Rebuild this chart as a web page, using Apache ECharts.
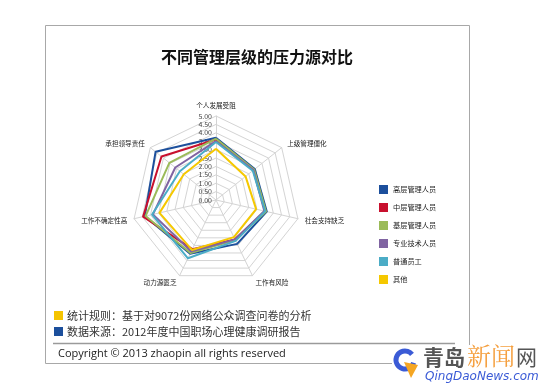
<!DOCTYPE html>
<html>
<head>
<meta charset="utf-8">
<script src="https://cdn.jsdelivr.net/npm/echarts@6/dist/echarts.min.js"></script>
<style>
html,body{margin:0;padding:0;background:#fff;}
#chart{width:550px;height:385px;}
</style>
</head>
<body>
<div id="chart"></div>
<script>
// Axes in clockwise order starting at the top
var indicators = ['个人发展受阻','上级管理僵化','社会支持缺乏','工作有风险','动力源匮乏','工作不确定性高','承担领导责任'];
var seriesNames = ['高层管理人员','中层管理人员','基层管理人员','专业技术人员','普通员工','其他'];
var seniorMgr   = [3.70, 2.95, 3.10, 2.90, 3.55, 4.35, 4.60];
var middleMgr   = [3.60, 2.85, 3.00, 2.60, 3.25, 4.45, 4.15];
var juniorMgr   = [3.65, 2.90, 3.05, 2.65, 3.50, 4.30, 3.55];
var technical   = [3.50, 2.85, 2.95, 2.60, 3.40, 3.85, 3.10];
var staff       = [3.45, 2.80, 3.00, 2.70, 3.85, 3.90, 2.75];
var others      = [3.05, 2.25, 2.45, 2.45, 3.30, 3.45, 2.45];
var axisMax = 5;
var tickStep = 0.5;

var colors = ['#1c4f9c','#c8102e','#9bbb59','#8064a2','#4bacc6','#f5c800'];
var seriesValues = [seniorMgr, middleMgr, juniorMgr, technical, staff, others];

// ECharts places radar indicators counter-clockwise; reorder to draw clockwise
var order = [0,6,5,4,3,2,1];
function reorder(arr){ return order.map(function(i){ return arr[i]; }); }

var FONT = '"Noto Sans CJK SC", "Noto Sans", sans-serif';

var indicatorOpts = reorder(indicators).map(function(name, k){
  var o = {name: name, min: 0, max: axisMax};
  if (k === 0) {
    o.axisLabel = {show: true, fontSize: 7, color: '#444', margin: 4,
      showMinLabel: true, showMaxLabel: true, fontFamily: FONT,
      formatter: function(v){ return Number(v).toFixed(2); }};
  }
  return o;
});

var chart = echarts.init(document.getElementById('chart'), null, {renderer:'canvas'});
chart.setOption({
  backgroundColor: '#ffffff',
  animation: false,
  color: colors,
  textStyle: {fontFamily: FONT},
  legend: {
    orient: 'vertical', left: 374, top: 180,
    icon: 'rect', itemWidth: 9, itemHeight: 9, itemGap: 9,
    textStyle: {fontSize: 7.2, color: '#222', fontFamily: FONT},
    data: seriesNames
  },
  radar: {
    center: [216, 200], radius: 84, startAngle: 90,
    splitNumber: axisMax / tickStep, shape: 'polygon',
    nameGap: 7,
    axisName: {color: '#222', fontSize: 6.6, fontFamily: FONT},
    axisLine: {lineStyle: {color: '#d4d4d4', width: 1}},
    axisTick: {show: false},
    axisLabel: {show: false},
    splitLine: {lineStyle: {color: '#d4d4d4', width: 1}},
    splitArea: {show: false},
    indicator: indicatorOpts
  },
  series: [{
    type: 'radar',
    symbol: 'none',
    lineStyle: {width: 2},
    data: seriesNames.map(function(n, i){
      return {name: n, value: reorder(seriesValues[i]),
        lineStyle: {color: colors[i], width: 2}, itemStyle: {color: colors[i]}};
    })
  }],
  graphic: [
    {type: 'rect', shape: {x: 45.5, y: 25.5, width: 424, height: 338},
      style: {fill: 'none', stroke: '#a8a8a8', lineWidth: 1}, z: 0},
    {type: 'text', x: 257, y: 57, style: {text: '不同管理层级的压力源对比', fontSize: 16, fontWeight: 'bold',
      fill: '#111', textAlign: 'center', textVerticalAlign: 'middle', fontFamily: FONT}},
    {type: 'rect', shape: {x: 54, y: 311, width: 9, height: 9}, style: {fill: '#f5c400'}},
    {type: 'text', x: 67, y: 316, style: {text: '统计规则：基于对9072份网络公众调查问卷的分析', fontSize: 11,
      fill: '#333', textVerticalAlign: 'middle', fontFamily: FONT}},
    {type: 'rect', shape: {x: 54, y: 327, width: 9, height: 9}, style: {fill: '#1c4f9c'}},
    {type: 'text', x: 67, y: 332, style: {text: '数据来源：2012年度中国职场心理健康调研报告', fontSize: 11,
      fill: '#333', textVerticalAlign: 'middle', fontFamily: FONT}},
    {type: 'line', shape: {x1: 53, y1: 343.5, x2: 455, y2: 343.5}, style: {stroke: '#9a9a9a', lineWidth: 1.5}},
    {type: 'text', x: 58, y: 354, style: {text: 'Copyright © 2013 zhaopin all rights reserved', fontSize: 11,
      fill: '#222', textVerticalAlign: 'middle', fontFamily: '"Open Sans", "Noto Sans", sans-serif'}},
    // watermark logo
    {type: 'rect', shape: {x: 392, y: 345, width: 158, height: 40}, style: {fill: '#fff'}, z: 5},
    {type: 'arc', shape: {cx: 405, cy: 360, r: 9, startAngle: 0.3, endAngle: 5.6}, style: {stroke: '#3b5bd6', lineWidth: 5, fill: 'none'}, z: 6},
    {type: 'polygon', shape: {points: [[404, 362], [418, 365], [411, 378]]}, style: {fill: '#f5a623'}, z: 6},
    {type: 'text', x: 423, y: 357, style: {text: '青岛', fontSize: 21, fontWeight: 'bold', fill: '#555', textVerticalAlign: 'middle', fontFamily: FONT}, z: 6},
    {type: 'text', x: 467, y: 356, style: {text: '新闻', fontSize: 24, fill: '#f5a040', textVerticalAlign: 'middle', fontFamily: '"Noto Serif CJK SC", ' + FONT}, z: 6},
    {type: 'text', x: 516, y: 357, style: {text: '网', fontSize: 21, fill: '#555', textVerticalAlign: 'middle', fontFamily: FONT}, z: 6},
    {type: 'text', x: 425, y: 377, style: {text: 'QingDaoNews.com', fontSize: 12, fontStyle: 'italic', fill: '#3b5bd6', textVerticalAlign: 'middle', fontFamily: '"DejaVu Sans", sans-serif'}, z: 6}
  ]
});
</script>
</body>
</html>
